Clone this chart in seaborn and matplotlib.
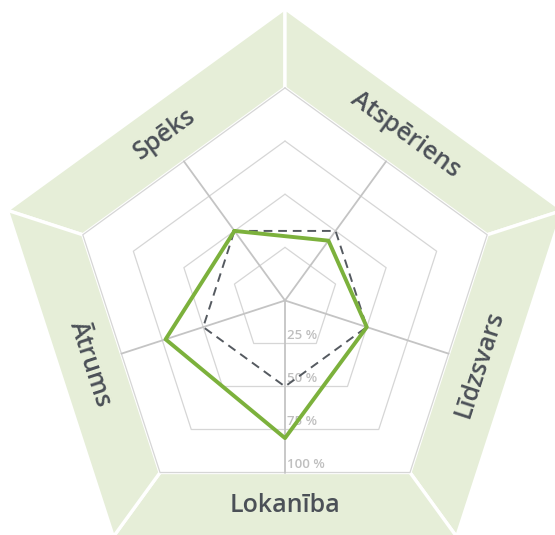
import numpy as np
import pandas as pd
import matplotlib.pyplot as plt
import seaborn as sns
from matplotlib.patches import Polygon

sns.set_theme(style="white")
plt.rcParams['font.family'] = ['Open Sans', 'DejaVu Sans']

# data
categories = ["Spēks", "Atspēriens", "Līdzsvars", "Lokanība", "Ātrums"]
player = [0.50, 0.43, 0.50, 0.80, 0.73]
average = [0.50, 0.50, 0.50, 0.50, 0.50]
levels = [0.25, 0.50, 0.75, 1.00]
level_labels = ["25 %", "50 %", "75 %", "100 %"]
label_rot = [36, -36, 72, 0, -72]

# layout (pixels, y going down)
W, H = 555, 535
CX, CY = 285, 300.5
APO = 172.0                  # distance centre -> 100 % edge
R_IN = APO / np.cos(np.pi / 5)
R_OUT = 292.0
angles = np.deg2rad([126, 54, -18, -90, -162])

GREEN = "#7cb13c"
BAND = "#e6eed8"
GRID = "#d6d6d6"
SPOKE = "#c4c4c4"
TEXT = "#4b5057"


def xy(r, a):
    return CX + r * np.cos(a), CY - r * np.sin(a)


def vertex(r, i, side):
    return xy(r, angles[i] + side * np.pi / 5)


fig = plt.figure(figsize=(W / 100, H / 100), dpi=100)
ax = fig.add_axes([0, 0, 1, 1])
ax.set_xlim(0, W)
ax.set_ylim(H, 0)
ax.set_aspect("equal")
ax.axis("off")

# outer bands
for i in range(5):
    pts = [vertex(R_IN, i, -1), vertex(R_IN, i, 1),
           vertex(R_OUT, i, 1), vertex(R_OUT, i, -1)]
    ax.add_patch(Polygon(pts, closed=True, facecolor=BAND,
                         edgecolor="white", linewidth=2.4, zorder=1))
    tx, ty = xy(APO + 33, angles[i])
    ax.text(tx, ty, categories[i], rotation=label_rot[i], rotation_mode="anchor",
            ha="center", va="center", fontsize=18, fontweight="semibold",
            color=TEXT, zorder=5)

# grid pentagons
for lv in levels:
    pts = [vertex(R_IN * lv, i, -1) for i in range(5)]
    pts.append(pts[0])
    gx, gy = zip(*pts)
    ax.plot(gx, gy, color=GRID, linewidth=0.9, zorder=2)

# spokes
for a in angles:
    ex, ey = xy(APO, a)
    ax.plot([CX, ex], [CY, ey], color=SPOKE, linewidth=1.3, zorder=2)

# level labels along the bottom spoke
for lv, lab in zip(levels, level_labels):
    ax.text(CX + 2, CY + APO * lv - 1.5, lab, ha="left", va="bottom",
            fontsize=9.5, fontweight="semibold", color="#bfbfbf", zorder=3)


def shape(values):
    pts = [xy(APO * v, a) for v, a in zip(values, angles)]
    pts.append(pts[0])
    return pd.DataFrame(pts, columns=["x", "y"])


avg = shape(average)
sns.lineplot(data=avg, x="x", y="y", sort=False, estimator=None, ax=ax,
             color="#555a60", linewidth=1.4, linestyle=(0, (4.5, 3)), zorder=4)
pl = shape(player)
sns.lineplot(data=pl, x="x", y="y", sort=False, estimator=None, ax=ax,
             color=GREEN, linewidth=2.8, zorder=4)

ax.set_xlim(0, W)
ax.set_ylim(H, 0)
ax.axis("off")
fig.savefig("out.png", dpi=100)
